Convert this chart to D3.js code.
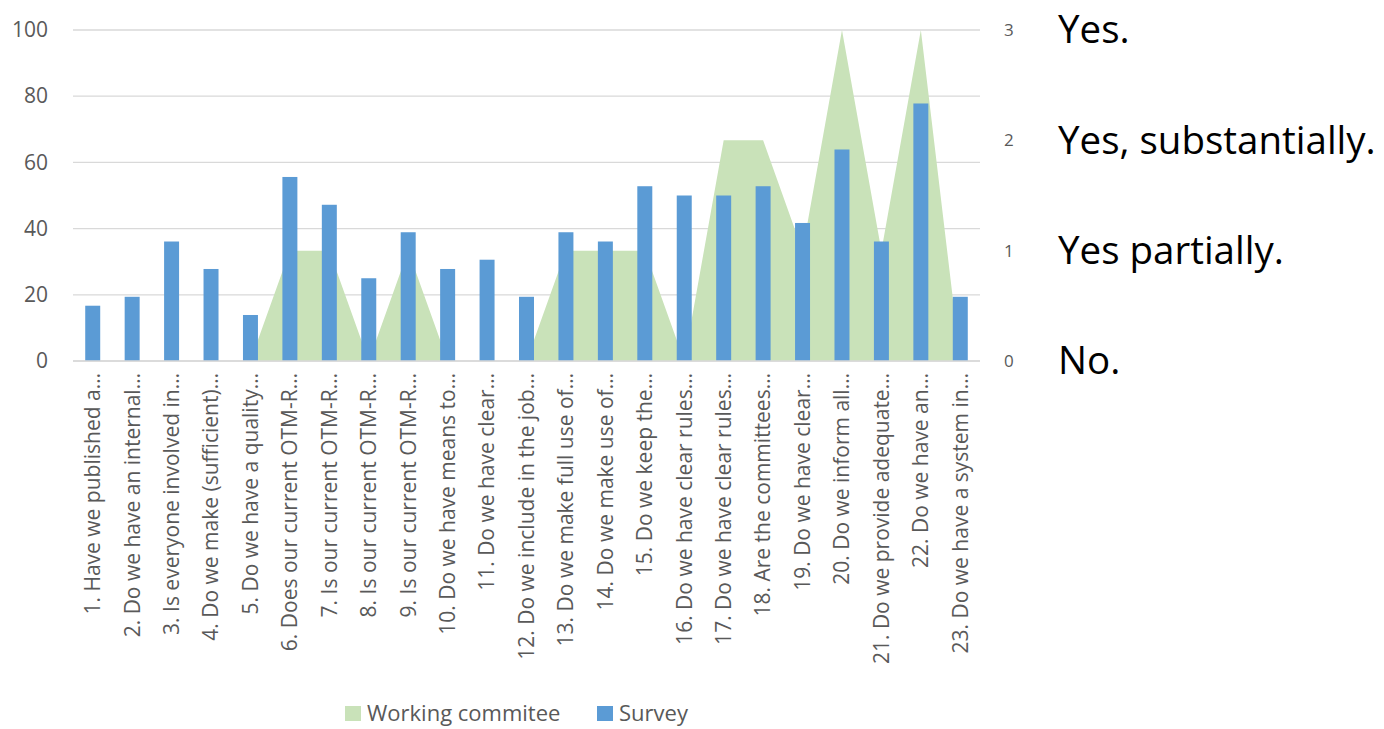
<!DOCTYPE html>
<html><head><meta charset="utf-8">
<script src="https://cdn.jsdelivr.net/npm/d3@7"></script>
<style>body{margin:0;background:#fff}svg{display:block}</style>
</head><body>
<svg id="c" width="1384" height="729"></svg>
<script>
const categories = [
 "1. Have we published a…","2. Do we have an internal…","3. Is everyone involved in…","4. Do we make (sufficient)…",
 "5. Do we have a quality…","6. Does our current OTM-R…","7. Is our current OTM-R…","8. Is our current OTM-R…",
 "9. Is our current OTM-R…","10. Do we have means to…","11. Do we have clear…","12. Do we include in the job…",
 "13. Do we make full use of…","14. Do we make use of…","15. Do we keep the…","16. Do we have clear rules…",
 "17. Do we have clear rules…","18. Are the committees…","19. Do we have clear…","20. Do we inform all…",
 "21. Do we provide adequate…","22. Do we have an…","23. Do we have a system in…"];
const survey = [16.7,19.4,36.1,27.8,13.9,55.6,47.2,25,38.9,27.8,30.6,19.4,38.9,36.1,52.8,50,50,52.8,41.7,63.9,36.1,77.8,19.4];
const working = [0,0,0,0,0,1,1,0,1,0,0,0,1,1,1,0,2,2,1,3,1,3,0];
const leftTicks = [0,20,40,60,80,100];
const rightTicks = [0,1,2,3];
const rightLabels = ["No.","Yes partially.","Yes, substantially.","Yes."];
const seriesNames = ["Working commitee","Survey"];

const FONT = "'Open Sans', sans-serif";
const svg = d3.select("#c");
const L = 73, R = 980, T = 30, B = 361;
const x = d3.scaleBand().domain(categories).range([L, R]).paddingInner(0.62).paddingOuter(0.31);
const yL = d3.scaleLinear().domain([0,100]).range([B, T]);
const yR = d3.scaleLinear().domain([0,3]).range([B, T]);
const cx = c => x(c) + x.bandwidth()/2;

// gridlines
svg.append("g").selectAll("line").data(leftTicks).join("line")
  .attr("x1", L).attr("x2", R).attr("y1", d => yL(d)).attr("y2", d => yL(d))
  .attr("stroke", "#d9d9d9").attr("stroke-width", 1.3);

// area
const area = d3.area().x((d,i) => cx(categories[i])).y0(yR(0)).y1(d => yR(d));
svg.append("path").datum(working).attr("d", area).attr("fill", "#c9e2b9");

// bars
svg.append("g").selectAll("rect").data(survey).join("rect")
  .attr("x", (d,i) => x(categories[i])).attr("width", x.bandwidth())
  .attr("y", d => yL(d)).attr("height", d => yL(0) - yL(d)).attr("fill", "#5b9bd5");

// left axis
const gL = svg.append("g").attr("transform", `translate(${L-25},0)`)
  .call(d3.axisLeft(yL).tickValues(leftTicks).tickSize(0).tickPadding(0));
gL.select(".domain").remove();
gL.selectAll("text").attr("font-family", FONT).attr("font-size", 21).attr("fill", "#595959");

// right axis
const gR = svg.append("g").attr("transform", `translate(1004,0)`)
  .call(d3.axisRight(yR).tickValues(rightTicks).tickSize(0).tickPadding(0).tickFormat(d3.format("d")));
gR.select(".domain").remove();
gR.selectAll("text").attr("font-family", FONT).attr("font-size", 17).attr("fill", "#595959");

// right labels
svg.append("g").selectAll("text").data(rightTicks).join("text")
  .attr("x", 1058).attr("y", d => yR(d)).attr("dy", "0.35em")
  .attr("font-family", FONT).attr("font-size", 38.5).attr("fill", "#000")
  .text((d,i) => rightLabels[i]);

// x axis labels
const gX = svg.append("g").attr("transform", `translate(0,${B})`)
  .call(d3.axisBottom(x).tickSize(0).tickPadding(0));
gX.select(".domain").attr("stroke", "#d9d9d9").attr("stroke-width", 1.3).attr("d", `M${L},0H${R}`);
gX.selectAll("text").attr("font-family", FONT).attr("font-size", 21).attr("fill", "#595959")
  .attr("transform", "rotate(-90)").attr("text-anchor", "end")
  .attr("x", -12).attr("y", 0).attr("dy", "0.35em");

// legend
const lg = svg.append("g");
const items = [{name: seriesNames[0], color: "#c9e2b9", x: 345}, {name: seriesNames[1], color: "#5b9bd5", x: 597}];
lg.selectAll("rect").data(items).join("rect")
  .attr("x", d => d.x).attr("y", 706).attr("width", 16).attr("height", 15).attr("fill", d => d.color);
lg.selectAll("text").data(items).join("text")
  .attr("x", d => d.x + 22).attr("y", 713).attr("dy", "0.35em")
  .attr("font-family", FONT).attr("font-size", 22).attr("fill", "#595959").text(d => d.name);
</script>
</body></html>
